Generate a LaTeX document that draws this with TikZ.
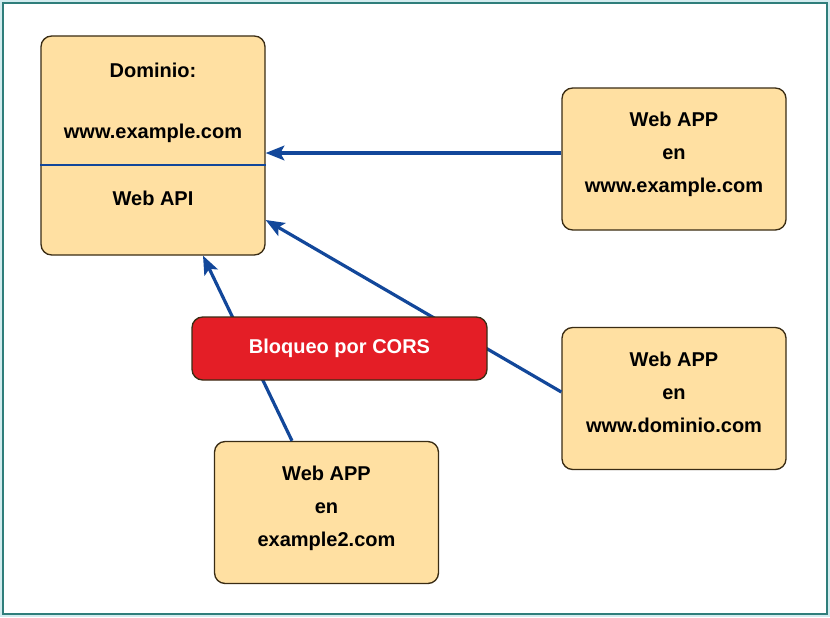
\documentclass[tikz,border=0pt]{standalone}
\usepackage{fontspec}
\setmainfont{Liberation Sans}
\usetikzlibrary{
  arrows.meta,
  positioning,  % Function "of"
  calc,         % Calculations $...$
}
\definecolor{boxfill}{HTML}{FFE0A2}
\definecolor{boxline}{HTML}{3A2C14}
\definecolor{arrowblue}{HTML}{12479A}
\definecolor{corsred}{HTML}{E41E26}
\definecolor{frameteal}{HTML}{2F7E7B}
\definecolor{stripcyan}{HTML}{D2ECEF}
\def\mywidth{168pt}
\def\myheight{106.5pt}
\tikzset{
  font=\fontsize{15}{24.75}\selectfont\bfseries,
  x=0.75pt,
  y=-0.75pt,
  >={Stealth[length=14pt,width=11pt,inset=3pt]},
  my box/.style={
    draw=boxline,
    fill=boxfill,
    line width=1pt,
    rounded corners=8pt,
    rectangle,
    align=center,
    inner sep=0pt
  },
  app/.style={
    my box,
    minimum width=\mywidth,
    minimum height=\myheight,
    text depth=10pt
  },
  cors/.style={
    my box,
    fill=corsred,
    text=white,
    minimum width=221.25pt,
    minimum height=47.25pt
  },
  link/.style={
    ->,
    draw=arrowblue,
    line width=2.4pt
  }
}

\begin{document}
\begin{tikzpicture}
\fill[stripcyan] (0,0) rectangle (830,617);
\draw[frameteal,line width=1.5pt,fill=white] (3,3) rectangle (826.5,613.5);
\useasboundingbox (0,0) rectangle (830,617);
% dominio
\node[my box,minimum width=\mywidth,minimum height=164.25pt] (dom) at (153,145.5) {};
\node (dom1) at (153,70)  {Dominio:};
\node (dom2) at (153,133) {www.example.com};
\node (api)  at (153,198) {Web API};
\draw[arrowblue,line width=1pt] ($(dom.west)+(0,19.5)$) -- ($(dom.east)+(0,19.5)$);
% apps
\node[app] (app1) at (674,159)   {Web APP\\en\\www.example.com};
\node[app] (app2) at (674,398.5) {Web APP\\en\\www.dominio.com};
\node[app] (app3) at (326.5,512.5) {Web APP\\en\\example2.com};
\path ($(app1.west)+(0,-6)$)     edge[link] ($(dom.east)+(0,7.5)$)
      ($(app2.west)+(0,-6.5)$)   edge[link] ($(dom.east)+(0,74.5)$)
      ($(app3.north)+(-34.5,0)$) edge[link] ($(dom.south)+(50,0)$);
% bloqueo
\node[cors] (cors) at (339.5,348.5) {Bloqueo por CORS};
\end{tikzpicture}
\end{document}
